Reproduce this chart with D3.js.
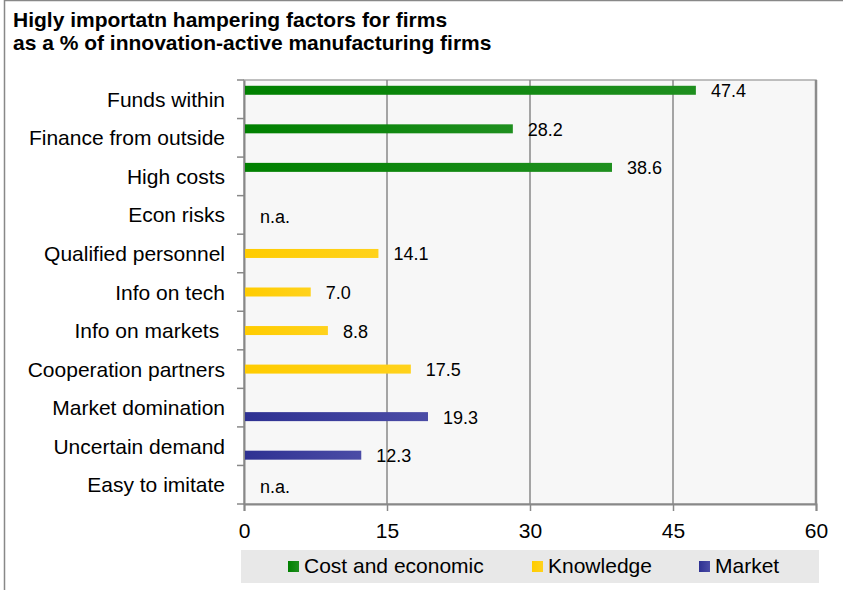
<!DOCTYPE html>
<html>
<head>
<meta charset="utf-8">
<script src="https://cdn.jsdelivr.net/npm/d3@7"></script>
<style>
  body { margin: 0; background: #fff; }
  svg { display: block; font-family: "Liberation Sans", Arial, sans-serif; }
</style>
</head>
<body>
<svg id="chart" width="843" height="590"></svg>
<script>
'use strict';

var title_lines = ["Higly importatn hampering factors for firms",
                   "as a % of innovation-active manufacturing firms"];

var categories = ["Funds within", "Finance from outside", "High costs", "Econ risks",
                  "Qualified personnel", "Info on tech", "Info on markets ",
                  "Cooperation partners", "Market domination", "Uncertain demand",
                  "Easy to imitate"];
var groups = ["cost", "cost", "cost", "cost",
              "knowledge", "knowledge", "knowledge", "knowledge",
              "market", "market", "market"];
var values = [47.4, 28.2, 38.6, null, 14.1, 7.0, 8.8, 17.5, 19.3, 12.3, null];

var series = ["cost", "knowledge", "market"];
var series_names = ["Cost and economic", "Knowledge", "Market"];
var x_ticks = [0, 15, 30, 45, 60];

var colors = {
  cost: ["#008000", "#1f8f1f"],
  knowledge: ["#ffcc00", "#ffd21c"],
  market: ["#2e3192", "#4b4ca6"]
};

var svg = d3.select("#chart");
var margin = {left: 244, right: 27, top: 80, bottom: 86};
var width = 843, height = 590;

// outer frame
svg.append("rect")
  .attr("x", 4.5).attr("y", 0.5)
  .attr("width", 900).attr("height", 900)
  .attr("fill", "#fff")
  .attr("stroke", "#888").attr("stroke-width", 1.5);

var defs = svg.append("defs");
series.forEach(function(s) {
  var g = defs.append("linearGradient").attr("id", "grad-" + s)
    .attr("x1", "0%").attr("x2", "100%").attr("y1", "0%").attr("y2", "0%");
  g.append("stop").attr("offset", "0%").attr("stop-color", colors[s][0]);
  g.append("stop").attr("offset", "100%").attr("stop-color", colors[s][1]);
});

// title
svg.append("text")
  .attr("x", 13).attr("y", 27)
  .attr("font-size", 21).attr("font-weight", "bold").attr("fill", "#000")
  .selectAll("tspan").data(title_lines).enter().append("tspan")
    .attr("x", 13).attr("dy", function(d, i) { return i ? 23 : 0; })
    .text(function(d) { return d; });

var x = d3.scaleLinear().domain([0, 60]).range([margin.left, width - margin.right]);
var y = d3.scaleBand().domain(categories).range([margin.top, height - margin.bottom]);
var inner = d3.scaleBand().domain(series)
  .range([y.bandwidth() * 0.15, y.bandwidth() * 0.85]);

// plot background
svg.append("rect")
  .attr("x", x(0)).attr("y", margin.top)
  .attr("width", x(60) - x(0)).attr("height", height - margin.bottom - margin.top)
  .attr("fill", "#f7f7f7")
  .attr("stroke", "#aaa").attr("stroke-width", 1.5);

// gridlines
svg.selectAll(".grid")
  .data(x_ticks.slice(1))
  .enter().append("line")
    .attr("class", "grid")
    .attr("x1", function(d) { return x(d); }).attr("x2", function(d) { return x(d); })
    .attr("y1", margin.top).attr("y2", height - margin.bottom)
    .attr("stroke", function(d) { return d === 60 ? "#8c8c8c" : "#888"; })
    .attr("stroke-width", function(d) { return d === 60 ? 2.5 : 1.5; });

// bottom axis
var x_axis = svg.append("g")
  .attr("transform", "translate(0," + (height - margin.bottom) + ")")
  .call(d3.axisBottom(x).tickValues(x_ticks).tickSize(7).tickPadding(12));
x_axis.select(".domain").attr("stroke", "#888").attr("stroke-width", 2);
x_axis.selectAll(".tick line").attr("stroke", "#888").attr("stroke-width", 1.5);
x_axis.selectAll(".tick text")
  .attr("font-size", 21).attr("fill", "#000")
  .attr("font-family", "Liberation Sans, Arial, sans-serif");

// left axis (labels keep trailing spaces, like the source)
var y_axis = svg.append("g")
  .attr("transform", "translate(" + margin.left + ",0)")
  .call(d3.axisLeft(y).tickSize(0).tickPadding(19));
y_axis.select(".domain").attr("stroke", "#888").attr("stroke-width", 2);
y_axis.selectAll(".tick text")
  .attr("font-size", 21).attr("fill", "#000").attr("dy", "0.36em")
  .style("white-space", "pre")
  .attr("font-family", "Liberation Sans, Arial, sans-serif");

// small ticks between categories
svg.selectAll(".cat-tick")
  .data(categories.concat(["end"]))
  .enter().append("line")
    .attr("class", "cat-tick")
    .attr("x1", margin.left - 7).attr("x2", margin.left)
    .attr("y1", function(d, i) { return margin.top + i * y.step(); })
    .attr("y2", function(d, i) { return margin.top + i * y.step(); })
    .attr("stroke", "#888").attr("stroke-width", 1.5);

// bars
var rows = categories.map(function(c, i) {
  return {name: c, group: groups[i], value: values[i]};
});

svg.selectAll(".bar")
  .data(rows.filter(function(d) { return d.value !== null; }))
  .enter().append("rect")
    .attr("class", "bar")
    .attr("x", x(0) + 1)
    .attr("y", function(d) { return y(d.name) + inner(d.group); })
    .attr("width", function(d) { return x(d.value) - x(0) - 1; })
    .attr("height", inner.bandwidth())
    .attr("fill", function(d) { return "url(#grad-" + d.group + ")"; });

svg.selectAll(".val")
  .data(rows)
  .enter().append("text")
    .attr("class", "val")
    .attr("font-size", 18).attr("fill", "#000")
    .attr("x", function(d) { return d.value === null ? x(0) + 16 : x(d.value) + 15; })
    .attr("y", function(d) {
      if (d.value === null) return y(d.name) + y.bandwidth() / 2 + 8;
      return y(d.name) + inner(d.group) + inner.bandwidth() / 2 + 7;
    })
    .text(function(d) { return d.value === null ? "n.a." : d.value.toFixed(1); });

// legend
var legend = svg.append("g");
legend.append("rect")
  .attr("x", 241).attr("y", 550).attr("width", 578).attr("height", 33)
  .attr("fill", "#e8e8e8");

var legend_x = d3.scaleOrdinal().domain(series).range([288, 532, 699]);
var items = legend.selectAll(".item")
  .data(series)
  .enter().append("g")
    .attr("class", "item")
    .attr("transform", function(d) { return "translate(" + legend_x(d) + ",561)"; });
items.append("rect")
  .attr("width", 11).attr("height", 11)
  .attr("fill", function(d) { return "url(#grad-" + d + ")"; });
items.append("text")
  .attr("x", 16).attr("y", 12)
  .attr("font-size", 21).attr("fill", "#000")
  .text(function(d, i) { return series_names[i]; });
</script>
</body>
</html>
